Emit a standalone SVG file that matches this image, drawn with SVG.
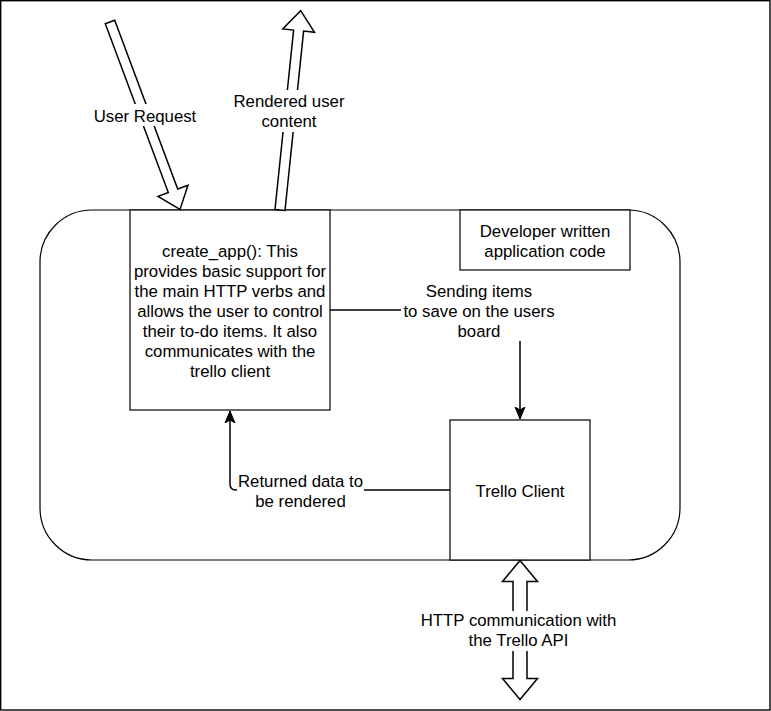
<svg xmlns="http://www.w3.org/2000/svg" width="771" height="711" viewBox="0 0 771 711">
<style>
.box{fill:#fff;stroke:#000;stroke-width:1.2}
.conn{fill:none;stroke:#000;stroke-width:1.5}
.block{fill:#fff;stroke:#000;stroke-width:1.5;stroke-linejoin:miter}
.lbl{font-family:"Liberation Sans",Arial,sans-serif;font-size:16.8px;fill:#000;text-anchor:middle}
.bg{fill:#fff;stroke:none}
</style>
<defs>
<marker id="arr" markerUnits="userSpaceOnUse" markerWidth="14" markerHeight="12" refX="12" refY="5" orient="auto" viewBox="0 0 14 10">
<path d="M0,0 L12,5 L0,10 L3,5 Z" fill="#000" stroke="#000" stroke-width="1"/>
</marker>
</defs>
<rect x="0" y="0" width="771" height="711" fill="#fff"/>
<rect x="0.7" y="0.7" width="769.3" height="709.3" fill="none" stroke="#000" stroke-width="1.4"/>
<g id="container">
<rect class="box" x="40" y="210" width="640" height="350" rx="52" ry="52"/>
</g>
<g id="create_app">
<rect class="box" x="130" y="210" width="200" height="200"/>
<text class="lbl" x="230" y="257">create_app(): This</text>
<text class="lbl" x="230" y="277">provides basic support for</text>
<text class="lbl" x="230" y="297">the main HTTP verbs and</text>
<text class="lbl" x="230" y="317">allows the user to control</text>
<text class="lbl" x="230" y="337">their to-do items. It also</text>
<text class="lbl" x="230" y="357">communicates with the</text>
<text class="lbl" x="230" y="377">trello client</text>
</g>
<g id="developer">
<rect class="box" x="460" y="210" width="170" height="60"/>
<text class="lbl" x="545" y="237">Developer written</text>
<text class="lbl" x="545" y="257">application code</text>
</g>
<g id="trello">
<rect class="box" x="450" y="420" width="140" height="140"/>
<text class="lbl" x="520" y="497">Trello Client</text>
</g>
<g id="connectors">
<polygon class="block" points="105.3,23.75 168.3,192.55 158,196.4 180,209.5 188,185.2 177.7,189.05 114.7,20.25"/>
<polygon class="block" points="275,209.5 293.6,30.1 282.7,28.9 300.7,10.7 314.5,32.3 303.6,31.1 285,210.5"/>
<polygon class="block" points="520,560.5 537.5,581.5 527,581.5 527,678.5 537.5,678.5 520,699.5 502.5,678.5 513,678.5 513,581.5 502.5,581.5"/>
<path class="conn" d="M330,310 L520,310 L520,419" marker-end="url(#arr)"/>
<path class="conn" d="M450,490 L236,490 Q230,490 230,484 L230,411" marker-end="url(#arr)"/>
</g>
<g id="labels">
<rect class="bg" x="92" y="104" width="107" height="22"/>
<text class="lbl" x="145" y="122">User Request</text>
<rect class="bg" x="230" y="90" width="118" height="42"/>
<text class="lbl" x="289" y="107">Rendered user</text>
<text class="lbl" x="289" y="127">content</text>
<rect class="bg" x="401" y="281" width="156" height="60"/>
<text class="lbl" x="479" y="297">Sending items</text>
<text class="lbl" x="479" y="317">to save on the users</text>
<text class="lbl" x="479" y="337">board</text>
<rect class="bg" x="237" y="472" width="127" height="40"/>
<text class="lbl" x="300.5" y="487">Returned data to</text>
<text class="lbl" x="300.5" y="507">be rendered</text>
<rect class="bg" x="420" y="611" width="197" height="40"/>
<text class="lbl" x="518.5" y="626">HTTP communication with</text>
<text class="lbl" x="518.5" y="646">the Trello API</text>
</g>
</svg>
